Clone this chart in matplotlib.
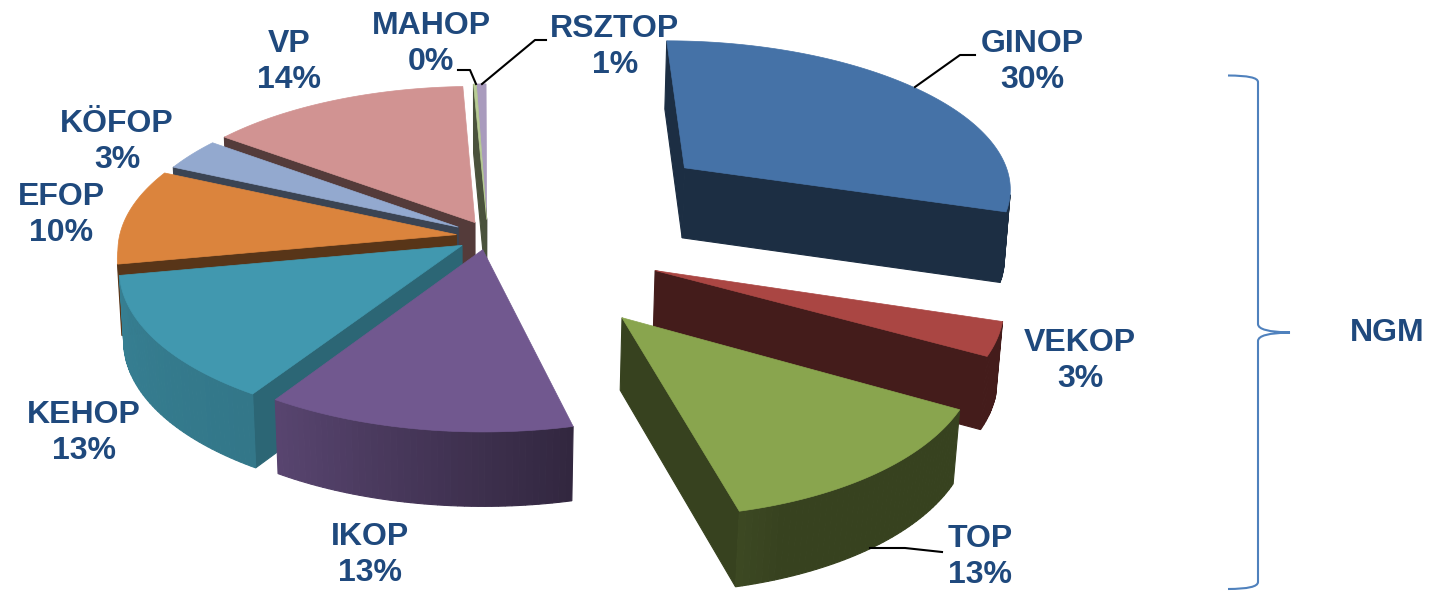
import numpy as np
from matplotlib import pyplot as plt
from matplotlib.patches import PathPatch
from matplotlib.path import Path

names = ['GINOP', 'VEKOP', 'TOP', 'IKOP', 'KEHOP', 'EFOP', 'KÖFOP', 'VP', 'MAHOP', 'RSZTOP']
values = [30, 3.4, 13, 12.6, 13, 10, 3.4, 14, 0.15, 0.51]
colors = ['#4572A7', '#AA4643', '#89A54E', '#71588F', '#4198AF',
          '#DB843D', '#93A9CF', '#D19392', '#B9CD96', '#A99BBD']

# how far each slice is pulled out of the pie, in pie radii
explode_x = [0.635, 0.505, 0.392, 0.008, -0.053, -0.07, -0.065, -0.015, 0.02, 0.02]
explode_y = [0.56, -0.13, -0.41, 0.002, 0.03, 0.10, 0.15, 0.18, 0.20, 0.20]
radius = [1, 0.98, 0.96, 1, 1, 1, 0.98, 1, 1, 1]

label_pos = [(1032, 62), (1080, 361), (980, 557), (370, 555), (84, 433),
             (61, 215), (117, 142), (289, 62), (431, 44), (615, 47)]

# pie projection
CX, CY = 480, 250
A, B = 340, 155
K_NEAR, K_FAR = 0.15, 0.10
DEPTH = 71
DEPTH_W = 0.012

TEXT_COLOR = '#1F497D'
BRACE_COLOR = '#4F81BD'


def project(x, y, bottom=False):
    w = 1 + (K_FAR if y > 0 else K_NEAR) * y
    if bottom:
        return CX + A * x / (w + DEPTH_W), CY - B * y / (w + DEPTH_W) + DEPTH / w ** 0.5
    return CX + A * x / w, CY - B * y / w


def shade(color, factor):
    rgb = np.array(plt.matplotlib.colors.to_rgb(color))
    return tuple(rgb * factor)


def wall_factor(angle):
    return np.interp(angle, [-180, -122, -77, -70, 0], [0.85, 0.78, 0.44, 0.40, 0.40])


def area(pts):
    xs = np.array([p[0] for p in pts])
    ys = np.array([p[1] for p in pts])
    return np.sum(xs * np.roll(ys, -1) - np.roll(xs, -1) * ys)


def side(ax, p, q, ex, ey, color, z):
    # p, q are pie points (x, y), the face is only drawn if it looks at us
    px, py = p[0] + ex, p[1] + ey
    qx, qy = q[0] + ex, q[1] + ey
    pts = [project(px, py), project(qx, qy), project(qx, qy, True), project(px, py, True)]
    if area(pts) < 0:
        ax.fill(*zip(*pts), color=color, lw=0.8, zorder=z)


fig = plt.figure(figsize=(14.39, 5.91), dpi=100)
ax = fig.add_axes([0, 0, 1, 1])
ax.set_xlim(0, 1439)
ax.set_ylim(591, 0)
ax.axis('off')

total = sum(values)
ends = 90 - np.cumsum(values) / total * 360
starts = np.concatenate([[90], ends[:-1]])
mids = (starts + ends) / 2

order = sorted(range(len(values)),
               key=lambda i: -(0.5 * np.sin(np.radians(mids[i])) + explode_y[i]))

for z, i in enumerate(order):
    ex, ey = explode_x[i], explode_y[i]
    col = colors[i]
    r = radius[i]
    angles = np.linspace(starts[i], ends[i], max(int(starts[i] - ends[i]) + 2, 3))
    rim = [(r * np.cos(np.radians(a)), r * np.sin(np.radians(a))) for a in angles]

    cut_start = 0.67 if -140 < starts[i] < -100 else 0.4
    side(ax, (0, 0), rim[0], ex, ey, shade(col, cut_start), z)
    side(ax, rim[-1], (0, 0), ex, ey, shade(col, 0.4), z)
    for j in range(len(rim) - 1):
        a = (angles[j] + angles[j + 1]) / 2
        a = a - 360 if a > 0 else a
        side(ax, rim[j], rim[j + 1], ex, ey, shade(col, wall_factor(a)), z)

    top = [project(ex, ey)] + [project(x + ex, y + ey) for x, y in rim]
    ax.fill(*zip(*top), color=col, lw=0.5, zorder=z + 0.5)

for name, v, (x, y) in zip(names, values, label_pos):
    ax.text(x, y, f'{name}\n{v:.0f}%', ha='center', va='center', color=TEXT_COLOR,
            fontsize=23, fontweight='bold', family='Liberation Sans',
            linespacing=1.27, zorder=50)

# leader lines
ax.plot([915, 960, 975], [87, 55, 55], color='k', lw=1.5, zorder=40)
ax.plot([482, 535, 546], [84, 40, 40], color='k', lw=1.5, zorder=40)
ax.plot([476, 470, 458], [84, 70, 70], color='k', lw=1.5, zorder=40)
ax.plot([870, 905, 942], [548, 548, 552], color='k', lw=1.5, zorder=40)

# NGM brace
verts = [(1228, 75.5), (1258, 75.5), (1258, 82), (1258, 324), (1258, 332), (1290, 332.5),
         (1258, 333), (1258, 341), (1258, 582), (1258, 589), (1228, 589)]
codes = [Path.MOVETO, Path.CURVE3, Path.CURVE3, Path.LINETO, Path.CURVE3, Path.CURVE3,
         Path.CURVE3, Path.CURVE3, Path.LINETO, Path.CURVE3, Path.CURVE3]
ax.add_patch(PathPatch(Path(verts, codes), fc='none', ec=BRACE_COLOR, lw=1.5, zorder=40))
ax.text(1387, 333, 'NGM', ha='center', va='center', color=TEXT_COLOR,
        fontsize=23, fontweight='bold', family='Liberation Sans', zorder=50)

fig.savefig('out.png', dpi=100)
